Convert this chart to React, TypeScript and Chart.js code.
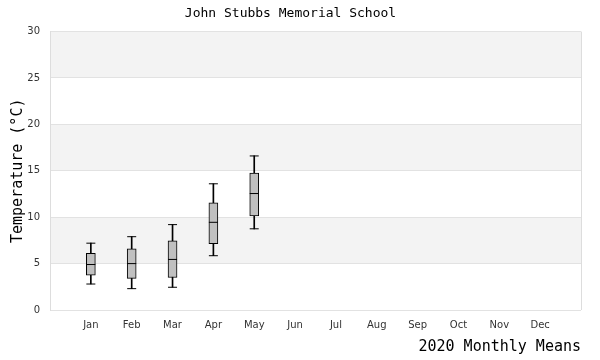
import React, { useEffect, useRef } from "react";
import { Chart, registerables } from "chart.js";

Chart.register(...registerables);

const months = ["Jan", "Feb", "Mar", "Apr", "May", "Jun", "Jul", "Aug", "Sep", "Oct", "Nov", "Dec"];
const whiskerLow = [2.8, 2.3, 2.45, 5.85, 8.75, null, null, null, null, null, null, null];
const quartile1 = [3.75, 3.4, 3.5, 7.15, 10.15, null, null, null, null, null, null, null];
const medians = [4.9, 5.0, 5.45, 9.45, 12.55, null, null, null, null, null, null, null];
const quartile3 = [6.1, 6.6, 7.45, 11.55, 14.75, null, null, null, null, null, null, null];
const whiskerHigh = [7.2, 7.9, 9.2, 13.6, 16.6, null, null, null, null, null, null, null];

const titleText = "John Stubbs Memorial School";
const xTitle = "2020 Monthly Means";
const yTitle = "Temperature (°C)";

const MONO = "'DejaVu Sans Mono', monospace";
const SANS = "'DejaVu Sans', Verdana, sans-serif";

const pad = (arr: (number | null)[]) => [null, ...arr, null];

const bandPlugin = {
  id: "bands",
  beforeDraw(chart: any) {
    const { ctx, chartArea, scales } = chart;
    const y = scales.y;
    ctx.save();
    ctx.fillStyle = "#f3f3f3";
    [[5, 10], [15, 20], [25, 30]].forEach(([a, b]) => {
      const top = y.getPixelForValue(b);
      const bot = y.getPixelForValue(a);
      ctx.fillRect(chartArea.left, top, chartArea.right - chartArea.left, bot - top);
    });
    ctx.restore();
  },
};

export default function App() {
  const ref = useRef<HTMLCanvasElement>(null);
  useEffect(() => {
    document.body.style.margin = "0";
    const labels = ["", ...months, ""];
    const n = labels.length;
    const chart = new Chart(ref.current!, {
      type: "bar",
      data: {
        labels,
        datasets: [
          {
            type: "bar",
            data: pad(whiskerLow.map((v, i) => (v == null ? null : [v, whiskerHigh[i]])) as any) as any,
            backgroundColor: "#000",
            borderWidth: 0,
            barThickness: 1,
            grouped: false,
            order: 3,
          } as any,
          {
            type: "bar",
            data: pad(quartile1.map((v, i) => (v == null ? null : [v, quartile3[i]])) as any) as any,
            backgroundColor: "#c0c0c0",
            borderColor: "#000",
            borderWidth: 1,
            borderSkipped: false,
            barThickness: 9,
            grouped: false,
            order: 2,
          } as any,
          {
            type: "line",
            data: pad(medians) as any,
            showLine: false,
            pointStyle: "line",
            pointRadius: 4.5,
            pointBorderWidth: 1,
            borderColor: "#000",
            order: 1,
          } as any,
          {
            type: "line",
            data: pad(whiskerLow) as any,
            showLine: false,
            pointStyle: "line",
            pointRadius: 4.5,
            pointBorderWidth: 1,
            borderColor: "#000",
            order: 1,
          } as any,
          {
            type: "line",
            data: pad(whiskerHigh) as any,
            showLine: false,
            pointStyle: "line",
            pointRadius: 4.5,
            pointBorderWidth: 1,
            borderColor: "#000",
            order: 1,
          } as any,
        ],
      },
      options: {
        responsive: false,
        animation: false,
        layout: { padding: { left: 0, right: 19, top: 0, bottom: 0 } },
        plugins: {
          legend: { display: false },
          tooltip: { enabled: false },
          title: {
            display: true,
            text: titleText,
            color: "#000",
            font: { family: MONO, size: 13, weight: "normal" },
            padding: { top: 6, bottom: 10 },
          },
        },
        scales: {
          x: {
            type: "category",
            offset: false,
            grid: {
              offset: false,
              drawTicks: false,
              color: (c: any) => (c.index === 0 || c.index === n - 1 ? "#dddddd" : "rgba(0,0,0,0)"),
            },
            border: { display: false },
            ticks: {
              autoSkip: false,
              maxRotation: 0,
              padding: 9,
              color: "#333",
              font: { family: SANS, size: 10 },
            },
            title: {
              display: true,
              text: xTitle,
              align: "end",
              color: "#000",
              font: { family: MONO, size: 15, weight: "normal" },
              padding: { top: 0, bottom: 4 },
            },
            afterFit: (s: any) => {
              s.height = 50;
            },
          },
          y: {
            min: 0,
            max: 30,
            ticks: {
              stepSize: 5,
              padding: 10,
              color: "#333",
              font: { family: SANS, size: 10 },
            },
            grid: { drawTicks: false, color: "#e2e2e2" },
            border: { display: true, color: "#dddddd" },
            title: {
              display: true,
              text: yTitle,
              color: "#000",
              font: { family: MONO, size: 15, weight: "normal" },
              padding: { top: 9, bottom: 0 },
            },
            afterFit: (s: any) => {
              s.width = 50;
            },
          },
        },
      },
      plugins: [bandPlugin],
    });
    return () => chart.destroy();
  }, []);
  return (
    <div style={{ width: 600, height: 360 }}>
      <canvas ref={ref} width={600} height={360} />
    </div>
  );
}
